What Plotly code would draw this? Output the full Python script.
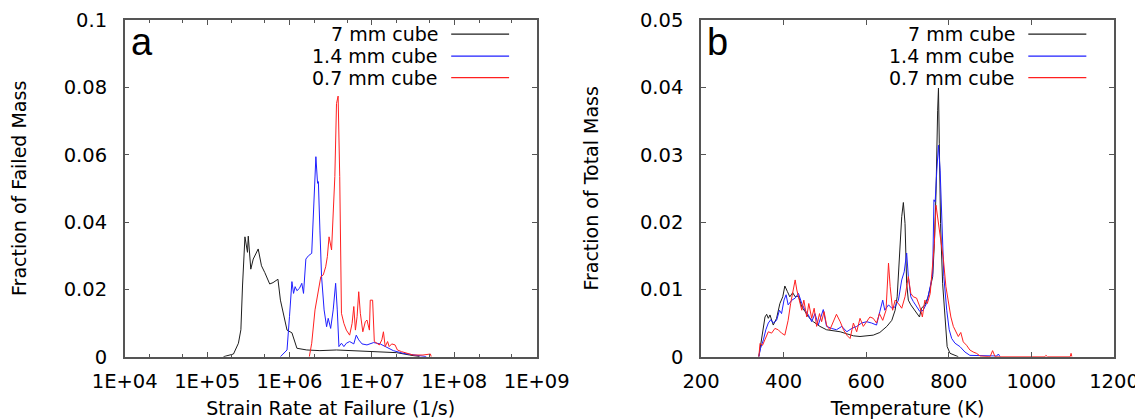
import plotly.graph_objects as go

# the page body adds an 8 px margin; size the figure so it fits the 1143x419 window
PAGE_W, PAGE_H, BODY = 1143, 419, 8
W, H = PAGE_W - BODY, PAGE_H - BODY

# ---------------- Panel a: strain rate at failure ----------------
a_x_7mm = [1.58e5, 2.09e5, 2.40e5, 2.57e5, 2.69e5, 2.88e5, 3.09e5, 3.16e5, 3.39e5, 3.63e5,
           4.17e5, 4.57e5, 5.01e5, 5.75e5, 6.31e5, 7.24e5, 7.76e5, 8.51e5, 9.33e5, 1.07e6,
           1.23e6, 1.62e6, 2.34e6, 3.72e6, 6.03e6, 9.55e6, 1.51e7, 2.00e7, 2.88e7, 3.80e7]
a_y_7mm = [0, 0.0008, 0.004, 0.008, 0.021, 0.0356, 0.031, 0.0358, 0.026, 0.029,
           0.032, 0.027, 0.025, 0.0216, 0.022, 0.023, 0.0168, 0.0119, 0.0079, 0.0071,
           0.0025, 0.002, 0.0018, 0.002, 0.0018, 0.0016, 0.0015, 0.0012, 0.0005, 0]

a_x_14mm = [7.76e5, 9.33e5, 1.00e6, 1.07e6, 1.12e6, 1.17e6, 1.23e6, 1.32e6, 1.41e6, 1.48e6,
            1.58e6, 1.70e6, 1.86e6, 1.95e6, 2.09e6, 2.19e6, 2.24e6, 2.34e6, 2.45e6, 2.63e6,
            2.82e6, 2.95e6, 3.16e6, 3.39e6, 3.63e6, 3.80e6, 3.98e6, 4.27e6, 4.57e6, 4.90e6,
            5.37e6, 6.03e6, 6.46e6, 6.92e6, 7.59e6, 8.71e6, 1.05e7, 1.26e7, 1.51e7, 1.82e7,
            2.40e7, 3.16e7, 4.57e7]
a_y_14mm = [0, 0.002, 0.012, 0.0223, 0.0188, 0.0208, 0.0196, 0.0203, 0.0218, 0.0188,
            0.029, 0.030, 0.0307, 0.0436, 0.0594, 0.0515, 0.052, 0.0376, 0.0238, 0.0139,
            0.0089, 0.0114, 0.0084, 0.0139, 0.0218, 0.0139, 0.003, 0.004, 0.003, 0.004,
            0.0045, 0.0038, 0.0064, 0.005, 0.0038, 0.0035, 0.0042, 0.0038, 0.0028, 0.0018,
            0.001, 0.0005, 0]

a_x_07mm = [1.74e6, 1.86e6, 2.04e6, 2.19e6, 2.29e6, 2.40e6, 2.57e6, 2.75e6, 2.88e6, 3.02e6,
            3.24e6, 3.39e6, 3.55e6, 3.72e6, 3.89e6, 4.07e6, 4.27e6, 4.57e6, 4.90e6, 5.37e6,
            5.75e6, 6.03e6, 6.31e6, 6.61e6, 6.92e6, 7.24e6, 7.76e6, 8.32e6, 8.71e6, 9.33e6,
            9.55e6, 1.02e7, 1.07e7, 1.15e7, 1.23e7, 1.32e7, 1.38e7, 1.45e7, 1.55e7, 1.62e7,
            1.74e7, 1.91e7, 2.04e7, 2.29e7, 2.63e7, 3.16e7, 4.17e7, 5.13e7, 5.25e7]
a_y_07mm = [0, 0.004, 0.0139, 0.0183, 0.0198, 0.0238, 0.0243, 0.0267, 0.0297, 0.0356,
            0.0317, 0.0426, 0.0535, 0.0752, 0.0774, 0.0535, 0.0129, 0.0099, 0.0079, 0.0064,
            0.0099, 0.0149, 0.0079, 0.0119, 0.0193, 0.0129, 0.0074, 0.0104, 0.0109, 0.0079,
            0.0168, 0.0168, 0.0045, 0.004, 0.0035, 0.005, 0.0074, 0.003, 0.0045, 0.003,
            0.0038, 0.0035, 0.002, 0.0015, 0.001, 0.0005, 0.0005, 0.0008, 0]

a_tickvals = [1e4, 1e5, 1e6, 1e7, 1e8, 1e9]
a_ticktext = ["1E+04", "1E+05", "1E+06", "1E+07", "1E+08", "1E+09"]

# ---------------- Panel b: temperature ----------------
b_x_7mm = [340, 347, 355, 359, 363, 367, 371, 375, 383, 391, 398, 403, 409, 415, 422, 428,
           436, 444, 452, 460, 472, 488, 504, 520, 537, 553, 569, 585, 601, 617, 633, 650,
           662, 670, 675, 680, 686, 690, 694, 698, 702, 708, 714, 722, 729, 734, 742, 750,
           756, 761, 765, 769, 773, 775, 777, 780, 785, 791, 796, 803, 819, 823]
b_y_7mm = [0, 0.0025, 0.0059, 0.0063, 0.0057, 0.0062, 0.0054, 0.0047, 0.0057, 0.0079,
           0.0089, 0.0105, 0.0097, 0.0089, 0.0095, 0.0089, 0.009, 0.0074, 0.0067, 0.0059,
           0.0052, 0.0045, 0.004, 0.0039, 0.0037, 0.0034, 0.0031, 0.003, 0.0031, 0.0032,
           0.0036, 0.0045, 0.0054, 0.0069, 0.0089, 0.0149, 0.0208, 0.0229, 0.0198, 0.0109,
           0.0084, 0.0077, 0.0072, 0.0064, 0.0059, 0.0072, 0.0077, 0.0089, 0.0104, 0.0119,
           0.0168, 0.0243, 0.0366, 0.0399, 0.0317, 0.0198, 0.0109, 0.005, 0.0015, 0.0005,
           0.0001, 0]

b_x_14mm = [340, 344, 351, 357, 363, 369, 375, 383, 390, 395, 401, 406, 411, 420, 428, 436,
            444, 452, 460, 468, 476, 484, 496, 504, 516, 528, 541, 553, 565, 577, 589, 601,
            613, 625, 633, 640, 645, 654, 662, 670, 678, 686, 692, 698, 702, 708, 714, 722,
            730, 738, 746, 755, 761, 764, 767, 771, 775, 779, 783, 788, 795, 801, 807, 815,
            827, 839, 851, 916, 920, 924]
b_y_14mm = [0, 0.0012, 0.0025, 0.004, 0.005, 0.0055, 0.005, 0.0054, 0.0069, 0.0064,
            0.0084, 0.0092, 0.0077, 0.0084, 0.0087, 0.0094, 0.0079, 0.0069, 0.0062, 0.0052,
            0.0064, 0.0047, 0.007, 0.0045, 0.0042, 0.004, 0.0045, 0.0037, 0.0042, 0.0045,
            0.005, 0.0052, 0.005, 0.0047, 0.0067, 0.0084, 0.0069, 0.0077, 0.0072, 0.0074,
            0.0084, 0.0114, 0.0126, 0.0154, 0.0119, 0.0089, 0.0082, 0.0074, 0.0067, 0.0069,
            0.0079, 0.0104, 0.0124, 0.0233, 0.023, 0.0277, 0.0314, 0.0277, 0.0193, 0.0119,
            0.0069, 0.004, 0.0027, 0.002, 0.0015, 0.0007, 0.0002, 0.0001, 0.0004, 0]

b_x_07mm = [340, 343, 349, 355, 363, 371, 379, 387, 395, 403, 411, 417, 422, 428, 432, 438,
            444, 449, 456, 461, 468, 474, 480, 487, 492, 498, 504, 512, 520, 528, 537, 545,
            553, 561, 569, 577, 585, 593, 601, 609, 617, 625, 632, 640, 648, 654, 658, 664,
            670, 678, 686, 694, 702, 708, 714, 722, 730, 736, 742, 748, 755, 760, 765, 769,
            773, 776, 781, 787, 793, 799, 805, 811, 817, 823, 829, 835, 843, 851, 859, 867,
            876, 900, 906, 912, 1033, 1035, 1039, 1094, 1096, 1098]
b_y_07mm = [0, 0.002, 0.0017, 0.0025, 0.0037, 0.0035, 0.0042, 0.004, 0.0035, 0.0032,
            0.0054, 0.0079, 0.0094, 0.0114, 0.0099, 0.0084, 0.0069, 0.0084, 0.0059, 0.0079,
            0.0057, 0.0072, 0.0045, 0.0064, 0.0052, 0.0067, 0.0047, 0.004, 0.0052, 0.0063,
            0.0052, 0.004, 0.0032, 0.0027, 0.005, 0.0037, 0.0057, 0.0045, 0.0052, 0.0059,
            0.0057, 0.005, 0.0064, 0.0054, 0.0069, 0.0139, 0.0104, 0.0069, 0.0084, 0.0079,
            0.0072, 0.0089, 0.0119, 0.0094, 0.0089, 0.0087, 0.0074, 0.0059, 0.0084, 0.0079,
            0.0094, 0.0129, 0.0168, 0.0225, 0.0208, 0.0193, 0.0168, 0.0144, 0.0104, 0.0079,
            0.0059, 0.0045, 0.0037, 0.003, 0.0036, 0.0022, 0.0017, 0.001, 0.0007, 0.0005,
            0.0001, 0, 0.0009, 0, 0, 0.0002, 0, 0, 0.0005, 0]

series_names = ["7 mm cube", "1.4 mm cube", "0.7 mm cube"]
series_colors = ["#1e1e1e", "#1f1fff", "#ff2020"]

FONT = "DejaVu Sans"
AX_LINE = "#555555"
TICK_SIZE = 19.5
TEXT_SIZE = 19

fig = go.Figure()

a_data = [(a_x_7mm, a_y_7mm), (a_x_14mm, a_y_14mm), (a_x_07mm, a_y_07mm)]
b_data = [(b_x_7mm, b_y_7mm), (b_x_14mm, b_y_14mm), (b_x_07mm, b_y_07mm)]

for (xs, ys), name, col in zip(a_data, series_names, series_colors):
    fig.add_trace(go.Scatter(x=xs, y=ys, mode="lines", name=name, showlegend=False,
                             line=dict(color=col, width=1), xaxis="x", yaxis="y"))
for (xs, ys), name, col in zip(b_data, series_names, series_colors):
    fig.add_trace(go.Scatter(x=xs, y=ys, mode="lines", name=name, showlegend=False,
                             line=dict(color=col, width=1), xaxis="x2", yaxis="y2"))

# plot-area geometry (page pixels, converted to figure pixels)
ax_l, ax_r = 124.7 - BODY, 536.7 - BODY
bx_l, bx_r = 701.0 - BODY, 1114.0 - BODY
p_top, p_bot = 20.0 - BODY, 356.7 - BODY

common_axis = dict(showgrid=False, zeroline=False, showline=True, linecolor=AX_LINE,
                   linewidth=1.5, mirror="ticks", ticks="inside", ticklen=5,
                   tickcolor=AX_LINE, tickwidth=1, automargin=False,
                   tickfont=dict(family=FONT, size=TICK_SIZE, color="black"))

fig.update_layout(
    template="none",
    width=W, height=H,
    margin=dict(l=0, r=0, t=0, b=0),
    paper_bgcolor="white", plot_bgcolor="white",
    showlegend=False,
    font=dict(family=FONT, size=TEXT_SIZE, color="black"),
    xaxis=dict(common_axis, type="log", domain=[ax_l / W, ax_r / W], anchor="y",
               range=[4, 9], tickvals=a_tickvals, ticktext=a_ticktext,
               minor=dict(ticks="inside", ticklen=3, dtick="D2", tickcolor=AX_LINE, showgrid=False),
               ticklabelstandoff=6,
               title=dict(text="Strain Rate at Failure (1/s)", standoff=14,
                          font=dict(family=FONT, size=TEXT_SIZE))),
    yaxis=dict(common_axis, domain=[1 - p_bot / H, 1 - p_top / H], anchor="x",
               range=[0, 0.1], dtick=0.02, ticklabelstandoff=12,
               title=dict(text="Fraction of Failed Mass", standoff=36,
                          font=dict(family=FONT, size=TEXT_SIZE))),
    xaxis2=dict(common_axis, domain=[bx_l / W, bx_r / W], anchor="y2",
                range=[200, 1200], dtick=200, ticklabelstandoff=6,
                title=dict(text="Temperature (K)", standoff=14,
                           font=dict(family=FONT, size=TEXT_SIZE))),
    yaxis2=dict(common_axis, domain=[1 - p_bot / H, 1 - p_top / H], anchor="x2",
                range=[0, 0.05], dtick=0.01, ticklabelstandoff=12,
                title=dict(text="Fraction of Total Mass", standoff=36,
                           font=dict(family=FONT, size=TEXT_SIZE))),
)

# manual legends (text right-aligned, line sample to the right), one per panel
legend_rows = [0.958, 0.893, 0.829]
for xr, yr in [("x domain", "y domain"), ("x2 domain", "y2 domain")]:
    for name, col, yy in zip(series_names, series_colors, legend_rows):
        fig.add_annotation(x=0.765, y=yy, xref=xr, yref=yr, text=name, showarrow=False,
                           xanchor="right", yanchor="middle",
                           font=dict(family=FONT, size=TEXT_SIZE, color="black"))
        fig.add_shape(type="line", xref=xr, yref=yr, x0=0.7925, x1=0.933, y0=yy, y1=yy,
                      line=dict(color=col, width=1.3))

# panel letters
for xr, yr, letter in [("x domain", "y domain", "a"), ("x2 domain", "y2 domain", "b")]:
    fig.add_annotation(x=0.01, y=0.935, xref=xr, yref=yr, text=letter, showarrow=False,
                       xanchor="left", yanchor="middle",
                       font=dict(family="Liberation Sans", size=38, color="black"))

fig.write_html("out.html")
